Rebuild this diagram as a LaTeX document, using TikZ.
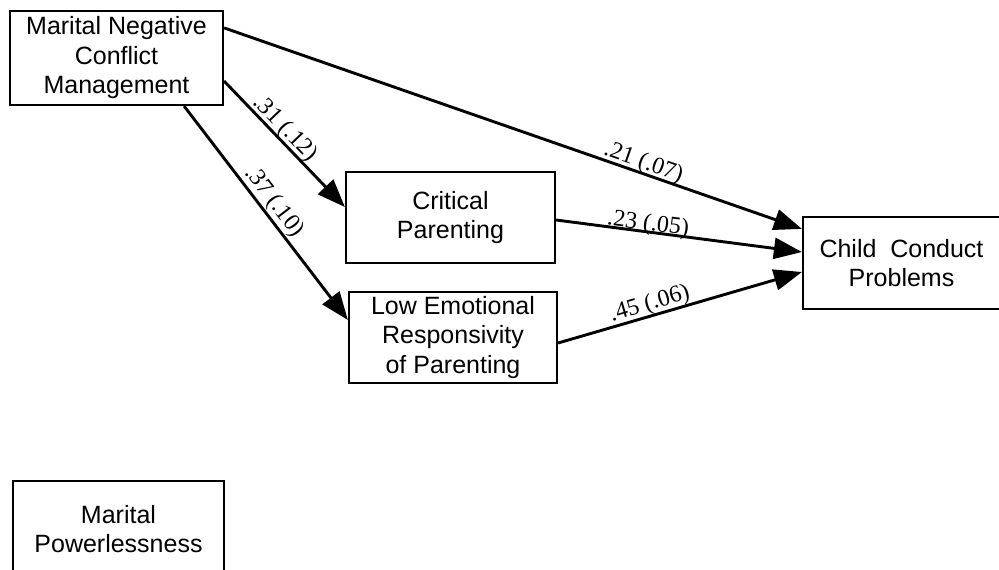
\documentclass[tikz,border=0pt]{standalone}
\usepackage{fontspec}
\setmainfont{Liberation Sans}
\newfontfamily\labfont{Liberation Serif}
\usetikzlibrary{arrows.meta}
\tikzset{
  box/.style={draw=black, line width=2.2pt, rectangle, inner sep=0pt, align=center,
    font=\fontsize{25}{29.5}\selectfont},
  arr/.style={line width=2.9pt, -{Triangle[length=28pt,width=21pt]}},
  lab/.style={sloped, anchor=base, inner sep=0pt, font=\labfont\fontsize{24}{28}\selectfont}
}
\begin{document}
\begin{tikzpicture}[x=1pt,y=-1pt]
\clip (0,0) rectangle (999,570);
\fill[white] (0,0) rectangle (999,570);
\node[box, minimum width=213pt, minimum height=94pt] (mncm) at (116.5,58) {Marital Negative\\Conflict\\Management};
\node[box, minimum width=209pt, minimum height=91pt] (crit) at (450.5,217.5) {Critical\\Parenting};
\node[box, minimum width=208pt, minimum height=91pt] (low) at (453,337.5) {Low Emotional\\Responsivity\\of Parenting};
\node[box, minimum width=197pt, minimum height=92pt] (child) at (901.5,263) {Child\ \ Conduct\\Problems};
\node[box, minimum width=211pt, minimum height=96pt] (mp) at (118.5,529) {Marital\\Powerlessness};

\draw[arr] ([yshift=-18pt]mncm.north east) -- node[lab, pos=0.72, yshift=4.4pt] {.21 (.07)} ([yshift=-13pt]child.north west);
\draw[arr] ([yshift=-2.5pt]crit.east) -- node[lab, pos=0.37, yshift=1.8pt] {.23 (.05)} ([yshift=11pt]child.west);
\draw[arr] ([yshift=-5.5pt]low.east) -- node[lab, pos=0.39, yshift=5.9pt] {.45 (.06)} ([yshift=-9pt]child.west);
\draw[arr] ([yshift=25pt]mncm.south east) -- node[lab, pos=0.44, yshift=5.4pt] {.31 (.12)} ([yshift=10.5pt]crit.west);
\draw[arr] ([xshift=-40pt]mncm.south east) -- node[lab, pos=0.486, yshift=7.3pt] {.37 (.10)} ([yshift=17.5pt]low.west);
\end{tikzpicture}
\end{document}
